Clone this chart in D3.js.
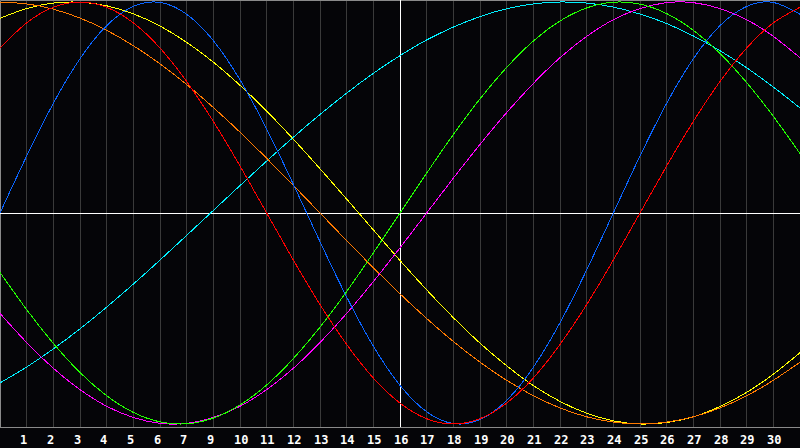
<!DOCTYPE html>
<html>
<head>
<meta charset="utf-8">
<script src="https://cdn.jsdelivr.net/npm/d3@7"></script>
<style>
  html, body { margin: 0; padding: 0; background: #050508; }
  svg { display: block; }
  .label { font-family: "DejaVu Sans Mono", monospace; font-weight: bold; font-size: 12px; fill: #fff; }
</style>
</head>
<body>
<svg width="800" height="448"></svg>
<script>
// day index along the x axis (0..30)
var days = d3.range(0, 31);

// values, one per day, -1..1
var physical     = [0, 0.27, 0.52, 0.731, 0.888, 0.979, 0.998, 0.942, 0.817, 0.631, 0.398, 0.136, -0.136, -0.398, -0.631, -0.817, -0.942, -0.998, -0.979, -0.888, -0.731, -0.52, -0.27, 0, 0.27, 0.52, 0.731, 0.888, 0.979, 0.998, 0.942];
var emotional    = [0.782, 0.901, 0.975, 1, 0.975, 0.901, 0.782, 0.623, 0.434, 0.223, 0, -0.223, -0.434, -0.623, -0.782, -0.901, -0.975, -1, -0.975, -0.901, -0.782, -0.623, -0.434, -0.223, 0, 0.223, 0.434, 0.623, 0.782, 0.901, 0.975];
var intellectual = [-0.282, -0.458, -0.618, -0.756, -0.866, -0.945, -0.99, -0.999, -0.972, -0.91, -0.815, -0.69, -0.541, -0.372, -0.189, 0, 0.189, 0.372, 0.541, 0.69, 0.815, 0.91, 0.972, 0.999, 0.99, 0.945, 0.866, 0.756, 0.618, 0.458, 0.282];
var intuition    = [-0.476, -0.614, -0.736, -0.837, -0.916, -0.969, -0.997, -0.997, -0.969, -0.916, -0.837, -0.736, -0.614, -0.476, -0.325, -0.165, 0, 0.165, 0.325, 0.476, 0.614, 0.736, 0.837, 0.916, 0.969, 0.997, 0.997, 0.969, 0.916, 0.837, 0.736];
var aesthetic    = [0.923, 0.969, 0.995, 0.999, 0.982, 0.944, 0.886, 0.809, 0.715, 0.605, 0.483, 0.35, 0.21, 0.066, -0.08, -0.225, -0.364, -0.496, -0.617, -0.724, -0.818, -0.893, -0.949, -0.985, -1, -0.993, -0.966, -0.917, -0.85, -0.764, -0.662];
var awareness    = [1, 0.991, 0.966, 0.924, 0.866, 0.793, 0.707, 0.609, 0.5, 0.383, 0.259, 0.131, 0, -0.131, -0.259, -0.383, -0.5, -0.609, -0.707, -0.793, -0.866, -0.924, -0.966, -0.991, -1, -0.991, -0.966, -0.924, -0.866, -0.793, -0.707];
var spiritual    = [-0.805, -0.73, -0.644, -0.549, -0.446, -0.337, -0.223, -0.106, 0.012, 0.13, 0.246, 0.359, 0.467, 0.568, 0.662, 0.746, 0.82, 0.881, 0.931, 0.968, 0.991, 1, 0.995, 0.976, 0.943, 0.898, 0.839, 0.769, 0.688, 0.597, 0.498];

// labels under the gridlines (the picture skips 8)
var dayLabels = ["1","2","3","4","5","6","7","9","10","11","12","13","14","15","16","17","18","19","20","21","22","23","24","25","26","27","28","29","30"];
var todayIndex = 15;

var series = [
  {name: 'spiritual',    values: spiritual,    color: '#00f0ff'},
  {name: 'aesthetic',    values: aesthetic,    color: '#ffff00'},
  {name: 'awareness',    values: awareness,    color: '#ff7a00'},
  {name: 'intuition',    values: intuition,    color: '#ff00ff'},
  {name: 'intellectual', values: intellectual, color: '#22ff00'},
  {name: 'physical',     values: physical,     color: '#0a64ff'},
  {name: 'emotional',    values: emotional,    color: '#ff0000'}
];

var svg = d3.select('svg');
var svgWidth = +svg.attr('width');
var plotBottom = 427;

var xScale = d3.scaleLinear().domain([0, 30]).range([0, svgWidth]);
var yScale = d3.scaleLinear().domain([-1, 1]).range([424, 2]);

// gridlines
var gridTicks = d3.range(1, 30);
svg.append('g').selectAll('line')
    .data(gridTicks)
    .enter()
    .append('line')
    .attr('x1', function(d) { return Math.floor(xScale(d)) + 0.5; })
    .attr('x2', function(d) { return Math.floor(xScale(d)) + 0.5; })
    .attr('y1', 0)
    .attr('y2', plotBottom)
    .attr('stroke', '#3a3a3a')
    .attr('stroke-width', 1);

// frame (left, top, bottom)
svg.append('path')
    .attr('d', 'M0.5,' + plotBottom + 'V0.5H' + svgWidth + 'M0,' + (plotBottom + 0.5) + 'H' + svgWidth)
    .attr('fill', 'none')
    .attr('stroke', '#8a8a8a')
    .attr('stroke-width', 1);

// zero line and today marker
svg.append('line')
    .attr('x1', 0).attr('x2', svgWidth)
    .attr('y1', Math.round(yScale(0)) + 0.5).attr('y2', Math.round(yScale(0)) + 0.5)
    .attr('stroke', '#ffffff');
svg.append('line')
    .attr('x1', Math.floor(xScale(todayIndex)) + 0.5).attr('x2', Math.floor(xScale(todayIndex)) + 0.5)
    .attr('y1', 0).attr('y2', plotBottom)
    .attr('stroke', '#ffffff');

var line = d3.line()
    .x(function(d, i) { return xScale(days[i]); })
    .y(function(d) { return yScale(d); })
    .curve(d3.curveNatural);

svg.append('g').selectAll('path')
    .data(series)
    .enter()
    .append('path')
    .attr('d', function(d) { return line(d.values); })
    .attr('fill', 'none')
    .attr('stroke', function(d) { return d.color; })
    .attr('stroke-width', 1)
    .style('shape-rendering', 'crispEdges');

// day labels
svg.append('g').selectAll('text')
    .data(dayLabels)
    .enter()
    .append('text')
    .attr('class', 'label')
    .attr('x', function(d, i) { return Math.floor(xScale(i + 1)) - 6; })
    .attr('y', 444)
    .text(function(d) { return d; });
</script>
</body>
</html>
